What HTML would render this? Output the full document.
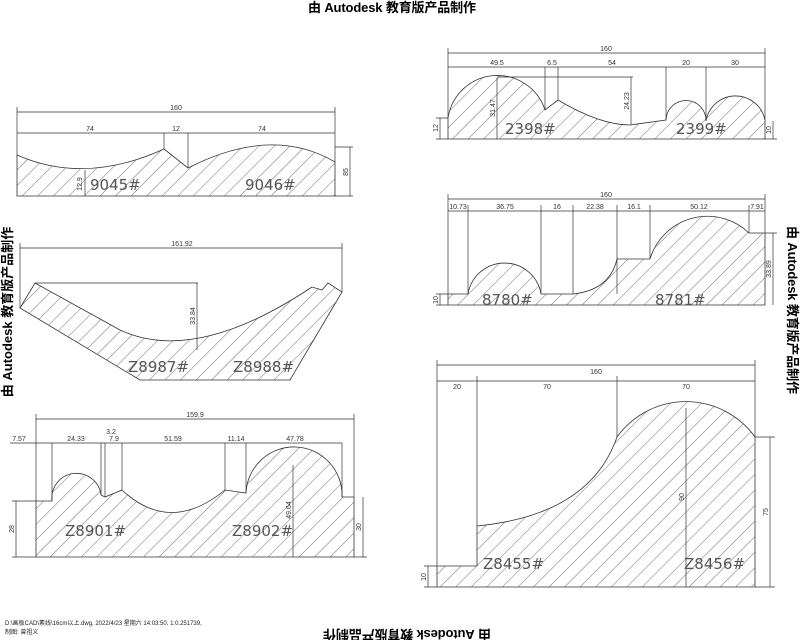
<!DOCTYPE html>
<html><head><meta charset="utf-8"><style>
html,body{margin:0;padding:0;background:#fff;}
svg{display:block}
.t{font-family:"Liberation Sans","Noto Sans CJK SC",sans-serif;}
.wm{font-family:"Liberation Sans","Noto Sans CJK SC",sans-serif;font-weight:bold;font-size:13px;fill:#000}
.d{font-family:"Liberation Sans",sans-serif;font-size:7px;fill:#333}
.lb{font-family:"DejaVu Sans","Liberation Sans",sans-serif;font-size:15px;fill:#555}
</style></head><body>
<svg width="800" height="640" viewBox="0 0 800 640" xmlns="http://www.w3.org/2000/svg">
<defs>
<pattern id="h" patternUnits="userSpaceOnUse" width="11" height="11" patternTransform="rotate(45)">
<line x1="0" y1="0" x2="0" y2="11" stroke="#333" stroke-width="0.7"/>
</pattern>
</defs>
<g fill="url(#h)" stroke="#333" stroke-width="0.8">
<path d="M17,155 Q85,185 164,149 L188,168 Q272,125 335,162 L335,196 L17,196 Z"/>
<path d="M20,308 L35,283 L120,330 Q195,365 312,287 L322,290 L328,283 L342,292 L290,380 L140,380 Z"/>
<path d="M36,557 L36,501 L52,501 A24,24 0 0 1 101,495 L105,497 L122,490 Q170,535 225,490 L246,493 A48,48 0 0 1 342,497 L354,497 L354,557 Z"/>
<path d="M448,139 L448,118 A50,50 0 0 1 545,110 L558,100 Q600,125 630,125 L666,120 A20,20 0 0 1 706,121 A30,30 0 0 1 765,120 L765,139 Z"/>
<path d="M448,305 L448,294 L468,294 A37,37 0 0 1 541,294 L573,294 Q610,290 617,259 L650,259 A60,60 0 0 1 749,233 L765,233 L765,305 Z"/>
<path d="M437,587 L437,566 L477,566 L477,526 Q590,515 617,437 A85,85 0 0 1 755,437 L755,587 Z"/>
</g>
<g stroke="#333" stroke-width="0.7" fill="none">
<path d="M17,112 H335 M17,107 V155 M335,107 V162 M17,133 H335 M164,133 V149 M188,133 V168 M335,147 H353 M350,147 V196 M335,196 H353 M85,170 V196"/>
<path d="M20,248 H342 M20,243 V308 M342,243 V292 M35,283 H198 M197,283 V350"/>
<path d="M36,419 H354 M36,414 V501 M354,414 V497 M10,443 H342 M52,443 V501 M101,443 V495 M105,443 V497 M122,443 V490 M225,443 V490 M246,443 V493 M342,443 V497 M293,465 V557 M12,501 H36 M16,501 V557 M12,557 H36 M354,557 H367 M363,497 V557"/>
<path d="M448,53 H765 M448,48 V118 M765,48 V120 M448,67 H765 M545,67 V110 M558,67 V100 M666,67 V120 M706,67 V121 M497,77 H633 M631,77 V125 M497,78 V139 M436,118 H448 M440,118 V139 M436,139 H448 M765,139 H777 M773,121 V139"/>
<path d="M448,199 H765 M448,194 V294 M765,194 V233 M448,211 H765 M468,205 V294 M541,205 V294 M573,205 V294 M617,205 V294 M650,205 V259 M749,205 V233 M436,294 H448 M440,294 V305 M436,305 H448 M765,233 H777 M773,233 V305"/>
<path d="M437,365 H755 M437,360 V566 M755,360 V437 M437,381 H755 M477,376 V526 M617,376 V437 M686,408 V587 M755,437 H775 M770,437 V587 M755,587 H775 M424,566 H437 M428,566 V587 M424,587 H437"/>
</g>
<g class="d" text-anchor="middle">
<text x="176" y="110">160</text><text x="90" y="131">74</text><text x="176" y="131">12</text><text x="262" y="131">74</text>
<text transform="translate(348,172) rotate(-90)">85</text><text transform="translate(82,184) rotate(-90)">12.9</text>
<text x="182" y="246">161.92</text><text transform="translate(195,316) rotate(-90)">33.84</text>
<text x="195" y="417">159.9</text><text x="19" y="441">7.57</text><text x="76" y="441">24.33</text><text x="111" y="434">3.2</text><text x="114" y="441">7.9</text><text x="173" y="441">51.59</text><text x="236" y="441">11.14</text><text x="295" y="441">47.78</text>
<text transform="translate(291,510) rotate(-90)">49.64</text><text transform="translate(14,529) rotate(-90)">28</text><text transform="translate(361,527) rotate(-90)">30</text>
<text x="606" y="51">160</text><text x="497" y="65">49.5</text><text x="552" y="65">6.5</text><text x="612" y="65">54</text><text x="686" y="65">20</text><text x="735" y="65">30</text>
<text transform="translate(495,108) rotate(-90)">31.47</text><text transform="translate(629,101) rotate(-90)">24.23</text><text transform="translate(438,128) rotate(-90)">12</text><text transform="translate(771,130) rotate(-90)">10</text>
<text x="606" y="197">160</text><text x="458" y="209">10.73</text><text x="505" y="209">36.75</text><text x="557" y="209">16</text><text x="595" y="209">22.38</text><text x="634" y="209">16.1</text><text x="699" y="209">50.12</text><text x="757" y="209">7.91</text>
<text transform="translate(438,300) rotate(-90)">10</text><text transform="translate(771,269) rotate(-90)">33.89</text>
<text x="596" y="374">160</text><text x="457" y="389">20</text><text x="547" y="389">70</text><text x="686" y="389">70</text>
<text transform="translate(684,497) rotate(-90)">90</text><text transform="translate(768,512) rotate(-90)">75</text><text transform="translate(426,577) rotate(-90)">10</text>
</g>
<g class="lb">
<text x="90" y="190">9045#</text><text x="245" y="190">9046#</text>
<text x="128" y="372">Z8987#</text><text x="233" y="372">Z8988#</text>
<text x="65" y="536">Z8901#</text><text x="232" y="536">Z8902#</text>
<text x="505" y="134">2398#</text><text x="676" y="134">2399#</text>
<text x="482" y="305">8780#</text><text x="655" y="305">8781#</text>
<text x="483" y="569">Z8455#</text><text x="684" y="569">Z8456#</text>
</g>
<text class="wm" x="392" y="12" text-anchor="middle" textLength="168">由 Autodesk 教育版产品制作</text>
<text class="wm" text-anchor="middle" textLength="168" transform="translate(407,630) rotate(180)">由 Autodesk 教育版产品制作</text>
<text class="wm" text-anchor="middle" transform="translate(12,312) rotate(-90)">由 Autodesk 教育版产品制作</text>
<text class="wm" text-anchor="middle" textLength="168" transform="translate(788,310) rotate(90)">由 Autodesk 教育版产品制作</text>
<text class="t" x="5" y="625" font-size="6" fill="#222">D:\画板CAD\素线\16cm以上.dwg, 2022/4/23 星期六 14:03:50, 1:0.251739,</text>
<text class="t" x="5" y="634" font-size="6" fill="#222">制图: 曾祖义</text>
</svg>
</body></html>
